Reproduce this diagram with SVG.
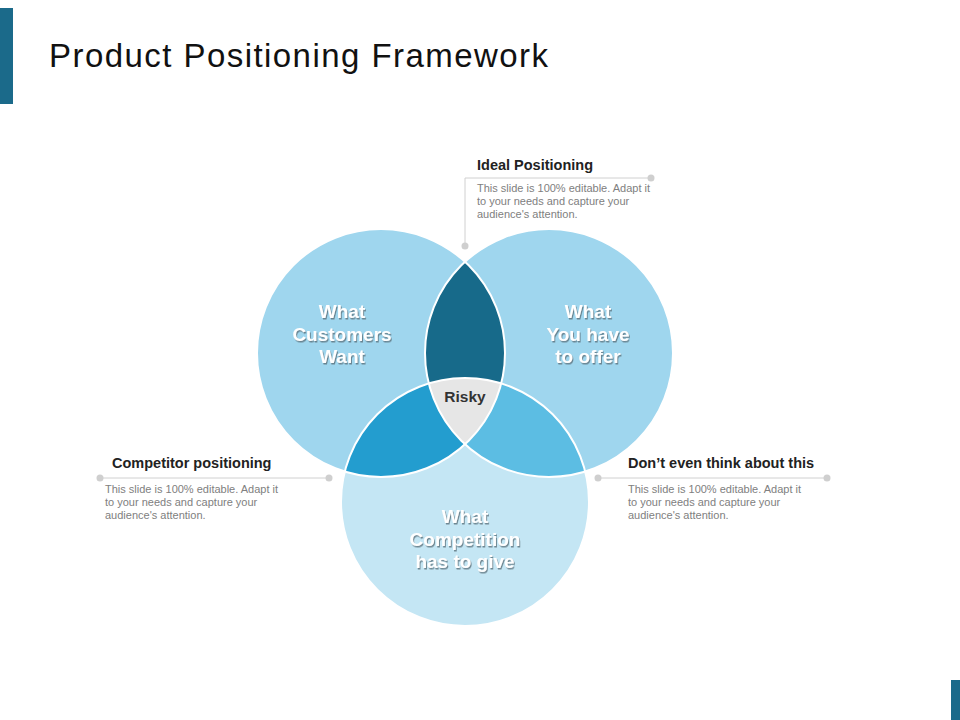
<svg xmlns="http://www.w3.org/2000/svg" width="960" height="720" viewBox="0 0 960 720">
<style>
.title{font-family:"Liberation Sans",Arial,sans-serif;font-size:33px;fill:#111}
.ct{font-family:"Liberation Sans",Arial,sans-serif;font-size:19px;font-weight:bold;fill:#fff;text-anchor:middle}
.head{font-family:"Liberation Sans",Arial,sans-serif;font-size:14.5px;font-weight:bold;fill:#222}
.body{font-family:"Liberation Sans",Arial,sans-serif;font-size:11px;fill:#808080}
.ln{stroke:#d0d0d0;stroke-width:1;fill:none}
.dot{fill:#cfcfcf}
.edge{fill:none;stroke:#fff;stroke-width:2}
</style>
<defs>
<filter id="sh" x="-20%" y="-20%" width="140%" height="140%">
<feDropShadow dx="1" dy="1.5" stdDeviation="0.6" flood-color="#5a6f7a" flood-opacity="0.8"/>
</filter>
</defs>
<rect x="0" y="8" width="13" height="96" fill="#1b6a8a"/>
<rect x="951" y="680" width="9" height="40" fill="#1b6a8a"/>
<text class="title" x="49" y="67" textLength="499" lengthAdjust="spacing">Product Positioning Framework</text>

<g id="circle-customers"><circle cx="381" cy="353" r="124" fill="#9fd6ee"/></g>
<g id="circle-offer"><circle cx="549" cy="353" r="124" fill="#9fd6ee"/></g>
<g id="circle-competition"><circle cx="465" cy="502" r="124" fill="#c4e6f4"/></g>
<g id="lens-ideal"><path d="M465,261.8 A124,124 0 0 0 428.8,383.4 A124,124 0 0 1 501.2,383.4 A124,124 0 0 0 465,261.8 Z" fill="#176a8a"/></g>
<g id="lens-competitor"><path d="M344.8,471.6 A124,124 0 0 1 428.8,383.4 A124,124 0 0 0 465,444.2 A124,124 0 0 1 344.8,471.6 Z" fill="#239dcf"/></g>
<g id="lens-dont"><path d="M585.2,471.6 A124,124 0 0 0 501.2,383.4 A124,124 0 0 1 465,444.2 A124,124 0 0 0 585.2,471.6 Z" fill="#5cbde3"/></g>
<g id="risky"><path d="M428.8,383.4 A124,124 0 0 1 501.2,383.4 A124,124 0 0 1 465,444.2 A124,124 0 0 1 428.8,383.4 Z" fill="#e6e6e6"/>
<text x="465" y="402" text-anchor="middle" font-family="Liberation Sans,Arial,sans-serif" font-size="15.5" font-weight="bold" fill="#333">Risky</text></g>
<g id="edges">
<circle class="edge" cx="381" cy="353" r="124"/>
<circle class="edge" cx="549" cy="353" r="124"/>
<circle class="edge" cx="465" cy="502" r="124"/>
</g>
<g id="labels" filter="url(#sh)">
<text class="ct" x="342" y="318">What</text>
<text class="ct" x="342" y="341">Customers</text>
<text class="ct" x="342" y="363">Want</text>
<text class="ct" x="588" y="318">What</text>
<text class="ct" x="588" y="341">You have</text>
<text class="ct" x="588" y="363">to offer</text>
<text class="ct" x="465" y="523">What</text>
<text class="ct" x="465" y="546">Competition</text>
<text class="ct" x="465" y="568">has to give</text>
</g>

<g id="connectors">
<polyline class="ln" points="465,246 465,178 651,178"/>
<circle class="dot" cx="465" cy="246" r="3.5"/>
<circle class="dot" cx="651" cy="178" r="3.5"/>
<line class="ln" x1="100" y1="478" x2="329" y2="478"/>
<circle class="dot" cx="100" cy="478" r="3.5"/>
<circle class="dot" cx="329" cy="478" r="3.5"/>
<line class="ln" x1="598" y1="478" x2="827" y2="478"/>
<circle class="dot" cx="598" cy="478" r="3.5"/>
<circle class="dot" cx="827" cy="478" r="3.5"/>
</g>

<g id="callout-ideal">
<text class="head" x="477" y="170">Ideal Positioning</text>
<text class="body" x="477" y="192">This slide is 100% editable.  Adapt it</text>
<text class="body" x="477" y="205">to your needs and capture your</text>
<text class="body" x="477" y="218">audience's attention.</text>
</g>
<g id="callout-competitor">
<text class="head" x="112" y="468">Competitor positioning</text>
<text class="body" x="105" y="493">This slide is 100% editable.  Adapt it</text>
<text class="body" x="105" y="506">to your needs and capture your</text>
<text class="body" x="105" y="519">audience's attention.</text>
</g>
<g id="callout-dont">
<text class="head" x="628" y="468">Don’t even think about this</text>
<text class="body" x="628" y="493">This slide is 100% editable.  Adapt it</text>
<text class="body" x="628" y="506">to your needs and capture your</text>
<text class="body" x="628" y="519">audience's attention.</text>
</g>
</svg>
